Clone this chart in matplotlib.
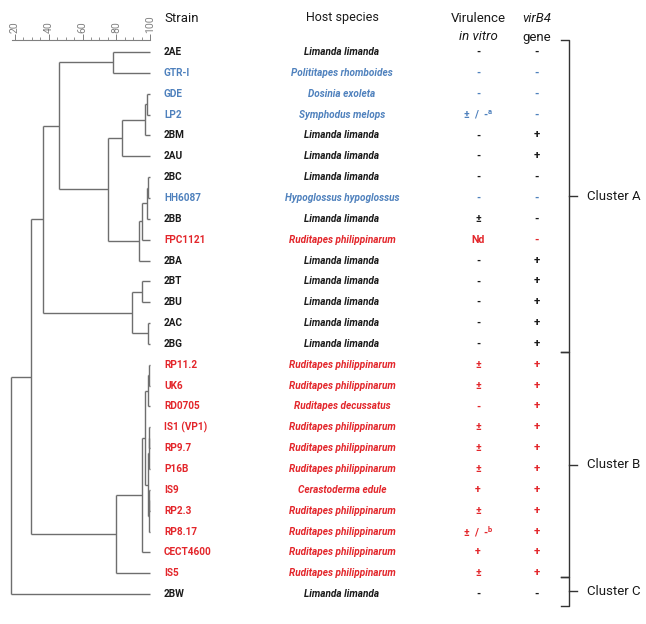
import numpy as np
import matplotlib
matplotlib.use("Agg")
import matplotlib.pyplot as plt
from matplotlib.ticker import MultipleLocator

plt.rcParams["font.family"] = ["Roboto", "DejaVu Sans"]

# ===== DATA =====
strains = ["2AE", "GTR-I", "GDE", "LP2", "2BM", "2AU", "2BC", "HH6087", "2BB",
           "FPC1121", "2BA", "2BT", "2BU", "2AC", "2BG", "RP11.2", "UK6", "RD0705",
           "IS1 (VP1)", "RP9.7", "P16B", "IS9", "RP2.3", "RP8.17", "CECT4600", "IS5", "2BW"]
hosts = ["Limanda limanda", "Polititapes rhomboides", "Dosinia exoleta", "Symphodus melops",
         "Limanda limanda", "Limanda limanda", "Limanda limanda", "Hypoglossus hypoglossus",
         "Limanda limanda", "Ruditapes philippinarum", "Limanda limanda", "Limanda limanda",
         "Limanda limanda", "Limanda limanda", "Limanda limanda", "Ruditapes philippinarum",
         "Ruditapes philippinarum", "Ruditapes decussatus", "Ruditapes philippinarum",
         "Ruditapes philippinarum", "Ruditapes philippinarum", "Cerastoderma edule",
         "Ruditapes philippinarum", "Ruditapes philippinarum", "Ruditapes philippinarum",
         "Ruditapes philippinarum", "Limanda limanda"]
virulence = ["-", "-", "-", "±  /  -$^\\mathregular{a}$", "-", "-", "-", "-", "±", "Nd",
             "-", "-", "-", "-", "-", "±", "±", "-", "±", "±", "±", "+", "±",
             "±  /  -$^\\mathregular{b}$", "+", "±", "-"]
virb4 = ["-", "-", "-", "-", "+", "+", "-", "-", "-", "-", "+", "+", "+", "+", "+",
         "+", "+", "+", "+", "+", "+", "+", "+", "+", "+", "+", "-"]
# L = Limanda limanda isolate, O = other host, R = clam / brown ring group
group = ["L", "O", "O", "O", "L", "L", "L", "O", "L", "R", "L", "L", "L", "L", "L",
         "R", "R", "R", "R", "R", "R", "R", "R", "R", "R", "R", "L"]

# UPGMA-like merges: (child, child, similarity %)
merges = [
    ("GDE", "LP2", 98.5),        # 0
    (0, "2BM", 97.0),            # 1
    (1, "2AU", 83.4),            # 2
    ("2BC", "HH6087", 99.0),     # 3
    (3, "2BB", 98.0),            # 4
    (4, "FPC1121", 95.1),        # 5
    (5, "2BA", 93.5),            # 6
    (2, 6, 75.1),                # 7
    ("2AE", "GTR-I", 78.0),      # 8
    (8, 7, 46.0),                # 9
    ("2BT", "2BU", 95.3),        # 10
    ("2AC", "2BG", 98.8),        # 11
    (10, 11, 89.3),              # 12
    (9, 12, 36.6),               # 13
    ("RP11.2", "UK6", 99.5),     # 14
    (14, "RD0705", 98.8),        # 15
    ("IS1 (VP1)", "RP9.7", 99.5),  # 16
    (16, "P16B", 99.2),          # 17
    ("IS9", "RP2.3", 99.5),      # 18
    (18, "RP8.17", 99.2),        # 19
    (17, 19, 98.6),              # 20
    (15, 20, 97.0),              # 21
    (21, "CECT4600", 95.3),      # 22
    (22, "IS5", 80.0),           # 23
    (13, 23, 29.5),              # 24
    (24, "2BW", 17.6),           # 25
]

clusters = [("Cluster A", "2AE", "2BG"), ("Cluster B", "RP11.2", "IS5"), ("Cluster C", "2BW", "2BW")]

# ===== STYLE =====
colors = {"L": "#1a1a1a", "O": "#4F81BD", "R": "#E3262B"}
W, H = 646, 624
row0, dy = 52, 20.85
ymax = (H - row0) / dy
ytop_full = -row0 / dy

fig = plt.figure(figsize=(W / 100, H / 100), dpi=100)

# ===== DENDROGRAM =====
def px(v):
    return 15 + (v - 20) * 1.6875

x0, x1 = 17, 100.5
axd = fig.add_axes([px(x0) / W, 0, (px(x1) - px(x0)) / W, 1 - 40 / H])
axd.set_xlim(x0, x1)
axd.set_ylim(ymax, (40 - row0) / dy)

leaf_y = {s: i for i, s in enumerate(strains)}
node_pos = []
lc = "#6e6e6e"


def pos(c):
    if isinstance(c, str):
        return 100.0, leaf_y[c]
    return node_pos[c]


for a, b, sim in merges:
    xa, ya = pos(a)
    xb, yb = pos(b)
    axd.plot([sim, sim], [ya, yb], color=lc, lw=1.0, solid_capstyle="butt")
    axd.plot([sim, xa], [ya, ya], color=lc, lw=1.0, solid_capstyle="butt")
    axd.plot([sim, xb], [yb, yb], color=lc, lw=1.0, solid_capstyle="butt")
    node_pos.append((sim, (ya + yb) / 2))

for s in ["left", "right", "bottom"]:
    axd.spines[s].set_visible(False)
axd.spines["top"].set_color("#808080")
axd.spines["top"].set_linewidth(0.8)
axd.spines["top"].set_bounds(18, 100)
axd.xaxis.set_ticks_position("top")
axd.xaxis.set_major_locator(MultipleLocator(20))
axd.xaxis.set_minor_locator(MultipleLocator(5))
axd.set_xticks([20, 40, 60, 80, 100])
axd.tick_params(axis="x", which="major", direction="out", length=4, width=0.7,
                colors="#808080", labelsize=7.5, labelrotation=90, pad=1)
axd.tick_params(axis="x", which="minor", direction="out", length=2, width=0.6, colors="#808080")
axd.tick_params(axis="y", left=False, labelleft=False)
axd.patch.set_alpha(0)

# ===== TABLE =====
ax = fig.add_axes([0, 0, 1, 1], zorder=-1)
ax.set_xlim(0, W)
ax.set_ylim(ymax, ytop_full)
ax.axis("off")

x_strain, x_host, x_vir, x_gene = 164, 342, 478, 537
fs = 7.2
for i, s in enumerate(strains):
    c = colors[group[i]]
    ax.text(x_strain, i, s, ha="left", va="center", fontsize=fs, fontweight="bold", color=c)
    ax.text(x_host, i, hosts[i], ha="center", va="center", fontsize=fs, fontweight="bold",
            style="italic", color=c)
    ax.text(x_vir, i, virulence[i], ha="center", va="center", fontsize=fs + 0.5,
            fontweight="bold", color=c)
    ax.text(x_gene, i, virb4[i], ha="center", va="center", fontsize=fs + 1,
            fontweight="bold", color=c)

hdr = 9.5


def yrow(p):
    return (p - row0) / dy


ax.text(x_strain, yrow(18), "Strain", ha="left", va="center", fontsize=hdr, color="#1a1a1a")
ax.text(x_host, yrow(18), "Host species", ha="center", va="center", fontsize=hdr - 0.5, color="#1a1a1a")
ax.text(x_vir, yrow(18), "Virulence", ha="center", va="center", fontsize=hdr, color="#1a1a1a")
ax.text(x_vir, yrow(37), "in vitro", ha="center", va="center", fontsize=hdr, style="italic", color="#1a1a1a")
ax.text(x_gene, yrow(18), "virB4", ha="center", va="center", fontsize=hdr, style="italic", color="#1a1a1a")
ax.text(x_gene, yrow(37), "gene", ha="center", va="center", fontsize=hdr, color="#1a1a1a")

# ===== BRACKETS =====
bx = 569
bounds = {"Cluster A": (-0.58, 14.4), "Cluster B": (14.4, 25.2), "Cluster C": (25.2, 26.55)}
for name, first, last in clusters:
    top, bot = bounds[name]
    mid = (top + bot) / 2
    ax.plot([bx - 8, bx, bx, bx - 8], [top, top, bot, bot], color="#333333", lw=1.0)
    ax.plot([bx, bx + 8], [mid, mid], color="#333333", lw=1.0)
    ax.text(bx + 18, mid, name, ha="left", va="center", fontsize=hdr, color="#1a1a1a")

plt.savefig("out.png", dpi=100)
plt.close()
